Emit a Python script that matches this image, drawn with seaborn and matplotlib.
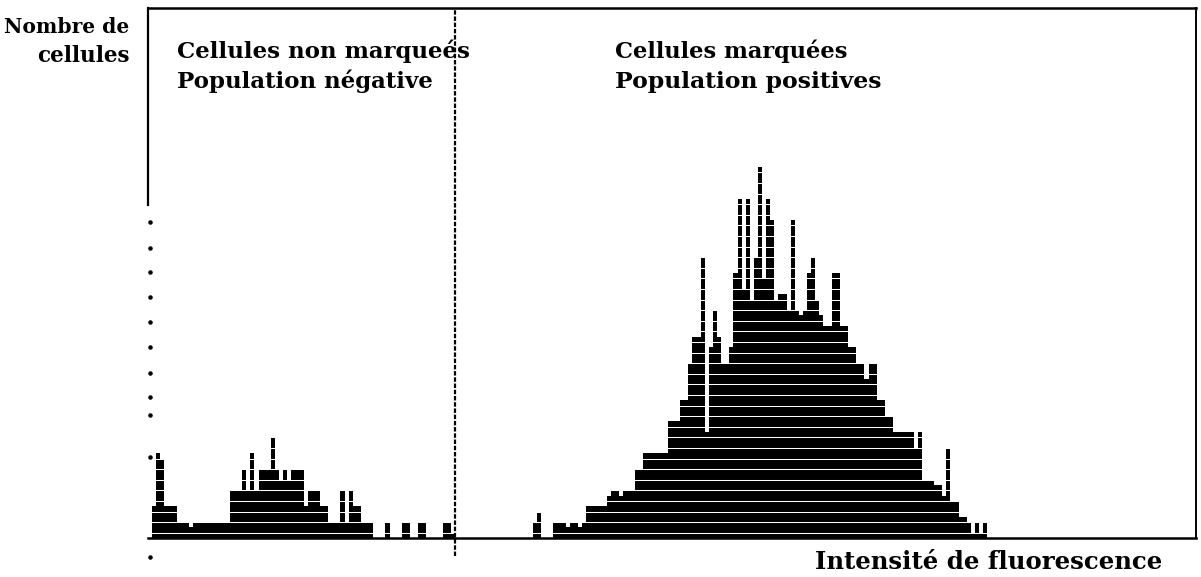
import numpy as np
import matplotlib
matplotlib.use("Agg")
import matplotlib.pyplot as plt
import seaborn as sns

# ---- data: cell counts per fluorescence channel (in printer rows) ----
counts = [
    0, 6, 16, 15, 6, 6, 6, 3, 3, 3,            # 0-9
    2, 3, 3, 3, 3, 3, 3, 3, 3, 3,              # 10-19
    9, 9, 9, 13, 9, 16, 9, 13, 13, 13,         # 20-29
    19, 13, 11, 13, 11, 13, 13, 13, 6, 9,      # 30-39
    9, 9, 6, 6, 3, 3, 3, 9, 3, 9,              # 40-49
    6, 6, 3, 3, 3, 0, 0, 0, 3, 0,              # 50-59
    0, 0, 3, 3, 0, 0, 3, 3, 0, 0,              # 60-69
    0, 0, 3, 3, 1, 0, 0, 0, 0, 0,              # 70-79
    0, 0, 0, 0, 0, 0, 0, 0, 0, 0,              # 80-89
    0, 0, 0, 0, 3, 5, 0, 0, 0, 3,              # 90-99
    3, 3, 2, 3, 3, 2, 3, 6, 6, 6,              # 100-109
    6, 6, 8, 9, 9, 8, 9, 9, 9, 13,             # 110-119
    13, 16, 16, 16, 16, 16, 16, 22, 22, 22,    # 120-129
    26, 26, 33, 38, 38, 53, 20, 36, 43, 38,    # 130-139
    33, 33, 36, 50, 64, 47, 64, 45, 53, 70,    # 140-149
    49, 64, 60, 45, 46, 46, 43, 60, 43, 42,    # 150-159
    43, 50, 53, 45, 42, 40, 40, 50, 50, 40,    # 160-169
    40, 36, 36, 33, 33, 30, 33, 33, 26, 26,    # 170-179
    23, 23, 20, 20, 20, 20, 20, 17, 20, 11,    # 180-189
    11, 11, 10, 10, 8, 17, 7, 7, 4, 4,         # 190-199
    3, 1, 3, 1, 3, 0,                          # 200-205
]
channels = list(range(len(counts)))
left_dots = [222, 248, 272, 297, 322, 347, 373, 397, 415, 457, 557]  # y pixel marks on the left edge

ylabel_lines = ["Nombre de", "cellules"]
neg_lines = ["Cellules non marqueés", "Population négative"]
pos_lines = ["Cellules marquées", "Population positives"]
xlabel_text = "Intensité de fluorescence"

# ---- figure ----
W, H = 1201, 577
sns.set_theme(style="white")
plt.rcParams["font.family"] = ["DejaVu Serif"]
plt.rcParams["text.color"] = "black"
fig = plt.figure(figsize=(W / 100, H / 100), dpi=100)
fig.patch.set_facecolor("white")

PX_L, PX_R, PX_T, PX_B = 148, 1196, 8, 538
ax = fig.add_axes([PX_L / W, 1 - PX_B / H, (PX_R - PX_L) / W, (PX_B - PX_T) / H])
ROW = (PX_B - PX_T) / 100.0  # pixels per row unit
NCH = 256
CHW = (PX_R - PX_L) / NCH

sns.barplot(x=channels, y=counts, color="black", saturation=1, width=1.0,
            errorbar=None, ax=ax, zorder=2, linewidth=0, edgecolor="black")
ax.set_xlim(-0.5, NCH - 0.5)
ax.set_ylim(0, 100)
ax.set_xticks([])
ax.set_yticks([])
ax.set_xlabel("")
ax.set_ylabel("")
ax.set_facecolor("white")

# dot-matrix row gaps
for k in range(0, 50):
    ax.axhline(2 * k + 1, color="white", lw=0.75, zorder=2.2)

def px2x(px):
    return (px - PX_L) / CHW - 0.5

def py2y(py):
    return (PX_B - py) / ROW

# frame
for s in ["top", "right", "bottom", "left"]:
    ax.spines[s].set_color("black")
ax.spines["top"].set_linewidth(1.8)
ax.spines["right"].set_linewidth(1.4)
ax.spines["bottom"].set_linewidth(1.8)
ax.spines["left"].set_linewidth(1.6)
ax.spines["left"].set_bounds(py2y(205), 100)

# divider between populations
ax.plot([px2x(455), px2x(455)], [py2y(556), 100], color="black", lw=1.6,
        ls=(0, (2.0, 0.8)), clip_on=False, zorder=3)

# dots on the left edge
ax.scatter([px2x(150)] * len(left_dots), [py2y(p) for p in left_dots], s=5,
           color="black", clip_on=False, zorder=3)

# texts
def ftext(px, py, s, size, **kw):
    fig.text(px / W, 1 - py / H, s, fontsize=size, fontweight="bold",
             color="black", va="baseline", **kw)

ftext(129, 33, ylabel_lines[0], 14.6, ha="right")
ftext(130, 62, ylabel_lines[1], 15.5, ha="right")
ftext(177, 58, neg_lines[0], 16.5, ha="left")
ftext(177, 88, neg_lines[1], 16.5, ha="left")
ftext(615, 58, pos_lines[0], 16.2, ha="left")
ftext(615, 88, pos_lines[1], 16.9, ha="left")
ftext(815, 569, xlabel_text, 17.6, ha="left")

fig.savefig("out.png", dpi=100, facecolor="white")
